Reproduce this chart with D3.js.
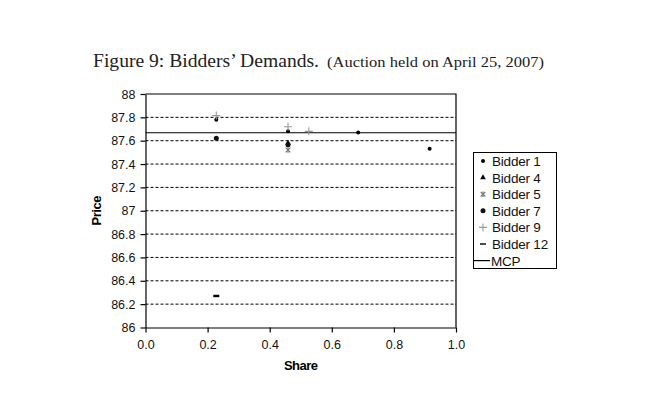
<!DOCTYPE html>
<html><head><meta charset="utf-8">
<script src="https://cdn.jsdelivr.net/npm/d3@7"></script>
<style>body{margin:0;background:#fff}</style>
</head><body>
<svg id="c" width="647" height="414"></svg>
<script>
const xTicks = [0, 0.2, 0.4, 0.6, 0.8, 1.0];
const yTicks = [86, 86.2, 86.4, 86.6, 86.8, 87, 87.2, 87.4, 87.6, 87.8, 88];
const bidder1 = [[0.228, 87.78], [0.459, 87.68], [0.685, 87.67], [0.915, 87.53]];
const bidder4 = [[0.459, 87.58]];
const bidder5 = [[0.459, 87.52]];
const bidder7 = [[0.228, 87.62], [0.459, 87.565]];
const bidder9 = [[0.228, 87.815], [0.459, 87.72], [0.526, 87.68]];
const bidder12 = [[0.228, 86.27]];
const mcp = 87.668;
const legendLabels = ["Bidder 1", "Bidder 4", "Bidder 5", "Bidder 7", "Bidder 9", "Bidder 12", "MCP"];

const svg = d3.select("#c");
const L = 145.5, R = 456, T = 94, B = 327.5;
const x = d3.scaleLinear().domain([0, 1]).range([L, R]);
const y = d3.scaleLinear().domain([86, 88]).range([B, T]);
const sans = "Liberation Sans, Arial, sans-serif";

// title
const title = svg.append("text").attr("x", 93).attr("y", 67)
  .attr("font-family", "Liberation Serif, Times New Roman, serif").attr("fill", "#222");
title.append("tspan").attr("font-size", 18).text("Figure 9:  Bidders\u2019 Demands.")
  .attr("textLength", 226).attr("lengthAdjust", "spacingAndGlyphs");
title.append("tspan").attr("font-size", 14.5).attr("x", 327).text("(Auction held on April 25, 2007)")
  .attr("textLength", 217).attr("lengthAdjust", "spacingAndGlyphs");

// gridlines
svg.append("g").selectAll("line").data(yTicks.filter(v => v > 86 && v < 88)).join("line")
  .attr("x1", L).attr("x2", R).attr("y1", d => y(d)).attr("y2", d => y(d))
  .attr("stroke", "#000").attr("stroke-width", 1).attr("stroke-dasharray", "3,2");

// border top/right
svg.append("path").attr("d", `M${L},${T}H${R}V${B}`).attr("fill", "none").attr("stroke", "#000").attr("stroke-width", 1.2);

// axes
const xa = svg.append("g").attr("transform", `translate(0,${B})`)
  .call(d3.axisBottom(x).tickValues(xTicks).tickFormat(d3.format(".1f")).tickSize(5).tickSizeOuter(0));
const ya = svg.append("g").attr("transform", `translate(${L},0)`)
  .call(d3.axisLeft(y).tickValues(yTicks).tickFormat(d => d3.format("")(+d.toFixed(1))).tickSize(5).tickSizeOuter(0));
[xa, ya].forEach(a => {
  a.selectAll("path,line").attr("stroke", "#000").attr("stroke-width", 1.2);
  a.selectAll("text").attr("font-family", sans).attr("font-size", 12.5).attr("fill", "#111");
});
xa.selectAll("text").attr("dy", "1.1em");
ya.selectAll("text").attr("x", -10);

// axis titles
svg.append("text").attr("x", (L + R) / 2).attr("y", 370).attr("text-anchor", "middle")
  .attr("font-family", sans).attr("font-weight", "bold").attr("font-size", 13).attr("letter-spacing", -0.5).text("Share");
svg.append("text").attr("transform", `translate(101,${(T + B) / 2}) rotate(-90)`).attr("text-anchor", "middle")
  .attr("font-family", sans).attr("font-weight", "bold").attr("font-size", 13).attr("letter-spacing", -0.5).text("Price");

// MCP line
svg.append("line").attr("x1", L).attr("x2", R).attr("y1", y(mcp)).attr("y2", y(mcp))
  .attr("stroke", "#000").attr("stroke-width", 1.2);

// marker drawers
const sym = (g, type, cx, cy, leg) => {
  if (type === "dot") g.append("circle").attr("cx", cx).attr("cy", cy).attr("r", 2).attr("fill", "#000");
  else if (type === "bigdot") g.append("circle").attr("cx", cx).attr("cy", cy).attr("r", 2.5).attr("fill", "#111");
  else if (type === "tri") g.append("path").attr("d", d3.symbol(d3.symbolTriangle, 14)()).attr("transform", `translate(${cx},${cy})`).attr("fill", "#000");
  else if (type === "star") g.append("path").attr("d", d3.symbol(d3.symbolTimes, 16)()).attr("transform", `translate(${cx},${cy})`).attr("fill", "none").attr("stroke", "#777").attr("stroke-width", 1.2)
    .clone().attr("d", "M0,-2.8V2.8");
  else if (type === "plus") g.append("path").attr("d", "M-4,0H4M0,-4V4").attr("transform", `translate(${cx},${cy})`).attr("stroke", "#999").attr("stroke-width", 1.1);
  else if (type === "dash") g.append("rect").attr("x", cx - 3).attr("y", cy - (leg ? 0.7 : 1.2)).attr("width", 6).attr("height", leg ? 1.4 : 2.4).attr("fill", "#000");
};
const series = [[bidder1, "dot"], [bidder4, "tri"], [bidder5, "star"], [bidder7, "bigdot"], [bidder9, "plus"], [bidder12, "dash"]];
const pts = svg.append("g");
series.forEach(([data, type]) => data.forEach(d => sym(pts, type, x(d[0]), y(d[1]))));

// legend
const lg = svg.append("g");
lg.append("rect").attr("x", 473.5).attr("y", 152.5).attr("width", 83).attr("height", 116)
  .attr("fill", "#fff").attr("stroke", "#000").attr("stroke-width", 1);
const types = ["dot", "tri", "star", "bigdot", "plus", "dash", "line"];
legendLabels.forEach((lab, i) => {
  const cy = 161 + i * 16.6;
  if (types[i] === "line") lg.append("line").attr("x1", 474).attr("x2", 490).attr("y1", cy).attr("y2", cy).attr("stroke", "#000").attr("stroke-width", 1.2);
  else sym(lg, types[i], 483, cy, true);
  lg.append("text").attr("x", types[i] === "line" ? 491 : 492).attr("y", cy + 5)
    .attr("font-family", sans).attr("font-size", 13.5).attr("letter-spacing", -0.2).attr("fill", "#111").text(lab);
});
</script>
</body></html>
